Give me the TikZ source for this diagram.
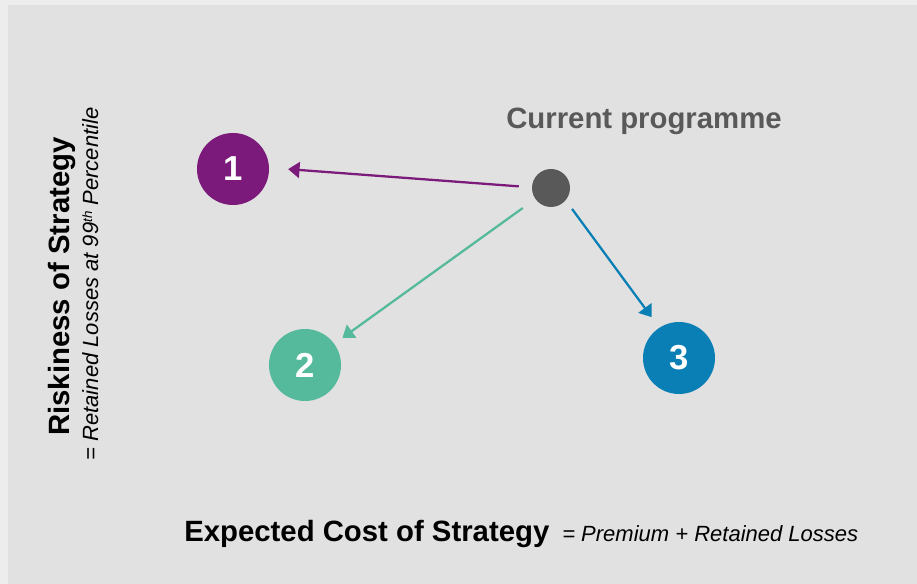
\documentclass[tikz,border=0pt]{standalone}
\usepackage{fontspec}
\setmainfont{Liberation Sans}
\usetikzlibrary{arrows.meta}
\definecolor{outerbg}{HTML}{EDEDED}
\definecolor{panelbg}{HTML}{E1E1E1}
\definecolor{cpurple}{HTML}{7B1A7A}
\definecolor{cgreen}{HTML}{55B99B}
\definecolor{cblue}{HTML}{0A7FB5}
\definecolor{cdark}{HTML}{595959}
\begin{document}
\begin{tikzpicture}[x=0.75pt,y=-0.75pt,
  numcircle/.style={circle,minimum size=54pt,inner sep=0pt,text=white,font=\fontsize{26}{30}\selectfont\bfseries},
  curdot/.style={circle,fill=cdark,minimum size=28.5pt,inner sep=0pt},
  conn/.style={line width=1.7pt,-{Triangle[length=8.5pt,width=12pt]}},
  bigbold/.style={inner sep=0pt,font=\fontsize{22}{26}\selectfont\bfseries},
  smallit/.style={inner sep=0pt,font=\fontsize{16.5}{20}\selectfont\itshape}]
\useasboundingbox (0,0) rectangle (917,584);
\fill[outerbg] (0,0) rectangle (917,584);
\fill[panelbg] (8,5) rectangle (917,584);
% nodes
\node[numcircle,fill=cpurple] (c1) at (233,169) {1};
\node[numcircle,fill=cgreen] (c2) at (305,365) {2};
\node[numcircle,fill=cblue] (c3) at (679,358) {3};
\node[curdot] (cur) at (551,188) {};
\node[bigbold,text=cdark,anchor=base west] (curlabel) at (506,129) {Current programme};
% connectors
\draw[conn,draw=cpurple,fill=cpurple,shorten <=9.75pt,shorten >=14.25pt] (cur.178) -- (c1.2);
\draw[conn,draw=cgreen,fill=cgreen,shorten <=11.5pt,shorten >=7.5pt] (cur.215) -- (c2.36);
\draw[conn,draw=cblue,fill=cblue,shorten <=8pt,shorten >=9.75pt] (cur.-40) -- (c3.123);
% axis labels
\node[bigbold,anchor=base west] (xlab) at (184,541) {Expected Cost of Strategy};
\node[smallit,anchor=base west] (xsub) at (562,541) {= Premium + Retained Losses};
\node[bigbold,rotate=90,anchor=base] (ylab) at (69,286.5) {Riskiness of Strategy};
\node[smallit,rotate=90,anchor=base] (ysub) at (98,284) {= Retained Losses at 99{\fontsize{10}{12}\selectfont\raisebox{0.45em}{th}} Percentile};
\end{tikzpicture}
\end{document}
